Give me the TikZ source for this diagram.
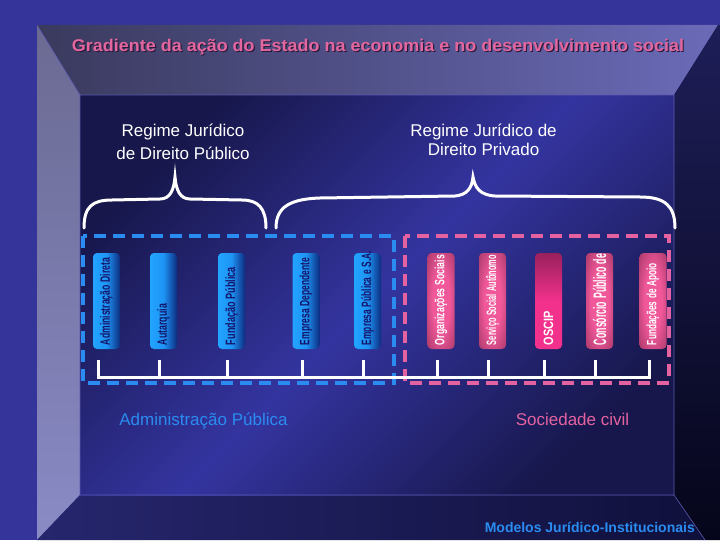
\documentclass[tikz,border=0pt]{standalone}
\usepackage{fontspec}
\setmainfont{Liberation Sans}
\usetikzlibrary{calc}
\definecolor{Backdrop}{HTML}{34349A}
\definecolor{LintelL}{HTML}{3A3A5E}
\definecolor{LintelR}{HTML}{6A6AB8}
\definecolor{JambT}{HTML}{6A6A92}
\definecolor{JambB}{HTML}{8A8AC6}
\definecolor{FloorL}{HTML}{26266E}
\definecolor{FloorR}{HTML}{10103C}
\definecolor{WallT}{HTML}{1E1E58}
\definecolor{WallB}{HTML}{05051A}
\definecolor{InnerDark}{HTML}{17174C}
\definecolor{InnerGlow}{HTML}{3434A0}
\definecolor{Seam}{HTML}{5A5AB0}
\definecolor{TitlePink}{HTML}{E4669E}
\definecolor{TitleShade}{HTML}{2A1A3A}
\definecolor{PubBlue}{HTML}{2A8CF0}
\definecolor{CivPink}{HTML}{E462A0}
\definecolor{PillLight}{HTML}{22A4FF}
\definecolor{PillMid}{HTML}{1E94F4}
\definecolor{PillDeep}{HTML}{0C2C80}
\definecolor{PillInk}{HTML}{14146A}
\definecolor{PinkGlow}{HTML}{F0589A}
\definecolor{PinkEdge}{HTML}{7A2448}
\definecolor{OscipHot}{HTML}{F2318C}
\definecolor{OscipDeep}{HTML}{98205C}
\pgfdeclareradialshading{pinkglow}{\pgfpoint{0bp}{0bp}}{color(0bp)=(PinkGlow); color(16bp)=(PinkGlow); color(50bp)=(PinkEdge)}
\newcommand{\pilltext}[2]{\resizebox{#1}{\height}{#2}}
\tikzset{
  headline/.style={text=TitlePink, font=\fontsize{17}{20}\selectfont\bfseries, inner sep=0pt},
  regime/.style={text=white, align=center, inner sep=0pt},
  pillar/.style={rotate=90, rounded corners=4pt, minimum width=96pt, minimum height=27pt,
    inner sep=0pt, text width=88pt, align=left, font=\fontsize{13.5}{13.5}\selectfont\bfseries},
  bluepillar/.style={pillar, text=PillInk, left color=PillLight, right color=PillDeep, middle color=PillMid},
  pinkpillar/.style={pillar, text=white, shading=pinkglow},
  oscippillar/.style={pillar, text=white, top color=OscipDeep, bottom color=OscipHot, middle color=OscipHot},
  groupbox/.style={line width=3.5pt, dash pattern=on 12pt off 7pt},
  brace/.style={draw=white, line width=3pt, line cap=round},
  bracket/.style={draw=white, line width=3pt, line cap=rect},
  sector/.style={font=\fontsize{17}{20}\selectfont, inner sep=0pt}
}
\begin{document}
\begin{tikzpicture}[x=1pt,y=-1pt]
  \fill[Backdrop] (0,0) rectangle (720,540);
  \shade[left color=LintelL, right color=LintelR] (37,25) -- (718,25) -- (674,95) -- (80,95) -- cycle;
  \shade[top color=JambT, bottom color=JambB] (37,25) -- (80,95) -- (80,495) -- (37,540) -- cycle;
  \shade[left color=FloorL, right color=FloorR] (37,540) -- (80,495) -- (674,495) -- (705,540) -- cycle;
  \shade[top color=WallT, bottom color=WallB] (718,25) -- (720,25) -- (720,540) -- (705,540) -- (674,495) -- (674,95) -- cycle;
  \shade[top color=InnerDark, bottom color=InnerDark, middle color=InnerGlow, shading angle=45] (80,95) rectangle (674,495);
  \draw[Seam, line width=0.6pt] (37,25) -- (80,95) (674,495) -- (705,540) (80,95) rectangle (674,495);

  \node[headline, text=TitleShade] (titleshade) at (379.2,48.2) {\resizebox{612pt}{\height}{Gradiente da ação do Estado na economia e no desenvolvimento social}};
  \node[headline] (title) at (378,47) {\resizebox{612pt}{\height}{Gradiente da ação do Estado na economia e no desenvolvimento social}};

  \node[regime, font=\fontsize{17}{23}\selectfont] (publico) at (183,141.5) {Regime Jurídico\\de Direito Público};
  \node[regime, font=\fontsize{17}{19}\selectfont] (privado) at (483.5,139.5) {Regime Jurídico de\\Direito Privado};

  \draw[brace] (84,228) .. controls (84,207) and (92,200) .. (112,200) -- (160,199)
    .. controls (170,199) and (174,190) .. (175,177) .. controls (176,190) and (180,199) .. (190,199)
    -- (242,200) .. controls (258,200) and (266,208) .. (266,228);
  \draw[brace] (276,228) .. controls (276,207) and (290,199) .. (320,198) -- (455,196)
    .. controls (467,195) and (472,188) .. (473,177) .. controls (475,188) and (480,195) .. (495,196)
    -- (640,197) .. controls (665,197) and (675,206) .. (675,228);

  \draw[groupbox, draw=PubBlue] (83,236) rectangle (394,383);
  \draw[groupbox, draw=CivPink] (405,236) rectangle (669,383);

  \node[bluepillar] (adm) at (106.5,301) {\pilltext{87pt}{Administração Direta}};
  \node[bluepillar] (aut) at (163.5,301) {\pilltext{41pt}{Autarquia}};
  \node[bluepillar] (fun) at (231.5,301) {\pilltext{78pt}{Fundação Pública}};
  \node[bluepillar] (emp) at (306,301) {\pilltext{87pt}{Empresa Dependente}};
  \node[bluepillar] (epsa) at (367.5,301) {\pilltext{94pt}{Empresa Pública e S.A.}};
  \node[pinkpillar] (os) at (441,301) {\pilltext{90pt}{Organizações Sociais}};
  \node[pinkpillar] (ssa) at (492.5,301) {\pilltext{90pt}{Serviço Social Autônomo}};
  \node[oscippillar] (oscip) at (548.5,301) {\pilltext{34pt}{OSCIP}};
  \node[pinkpillar, font=\fontsize{18}{18}\selectfont\bfseries] (cons) at (599.5,301) {\pilltext{91pt}{Consórcio Público de}};
  \node[pinkpillar] (fap) at (653,301) {\pilltext{82pt}{Fundações de Apoio}};

  \coordinate (bl) at (98,377);
  \coordinate (br) at (649,377);
  \draw[bracket] (bl) -- (br);
  \foreach \p in {aut,fun,emp,epsa,os,ssa,oscip,cons,fap}
    \draw[bracket] ([xshift=-4pt]\p.center |- bl) -- ++(0,-16);
  \draw[bracket] (bl) -- ++(0,-16);

  \node[sector, text=PubBlue] (admpub) at (203.5,421) {Administração Pública};
  \node[sector, text=CivPink] (sociedade) at (572.5,419) {Sociedade civil};
  \node[anchor=east, text=PubBlue, font=\fontsize{14}{16}\selectfont\bfseries, inner sep=0pt] (modelos) at (695,527) {Modelos Jurídico-Institucionais};
\end{tikzpicture}
\end{document}
